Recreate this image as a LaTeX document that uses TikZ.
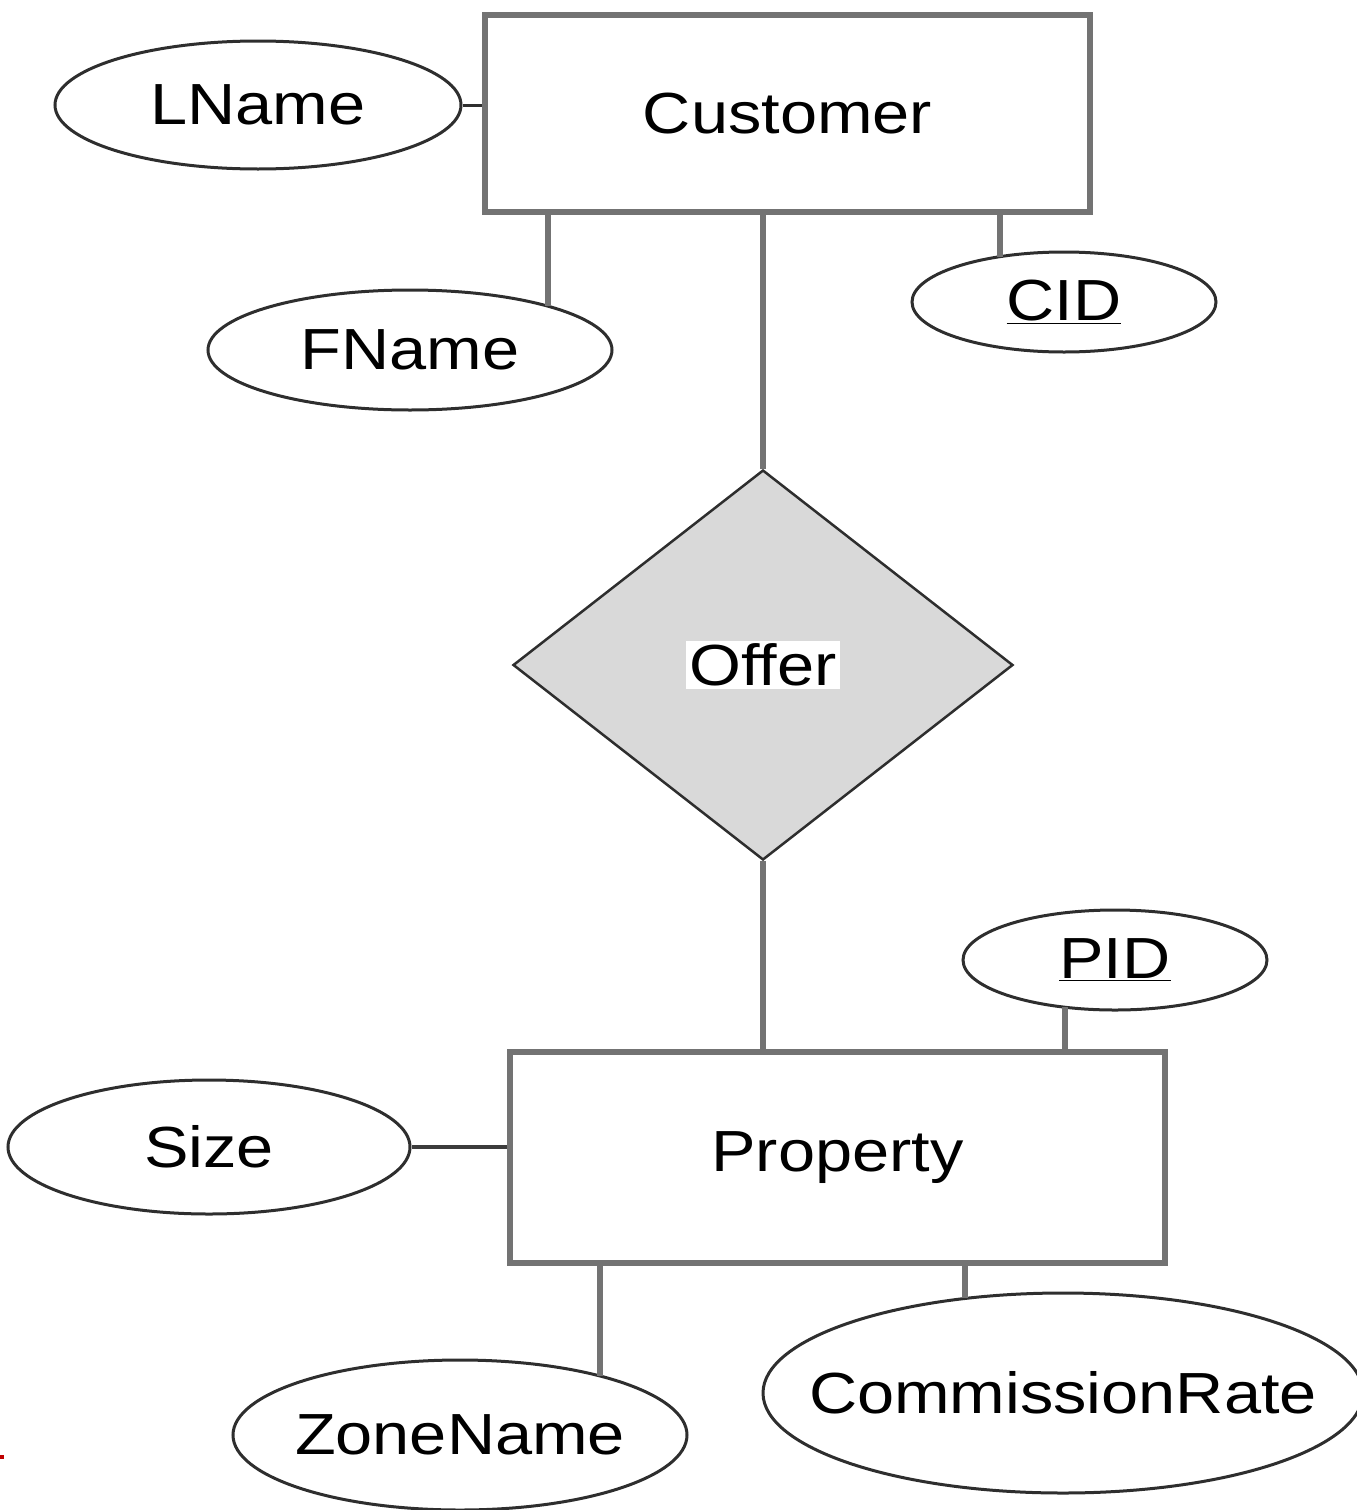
\documentclass[tikz,border=0pt]{standalone}
\usepackage{fontspec}
\setmainfont{Liberation Sans}
\usetikzlibrary{shapes.geometric}
\definecolor{rectgray}{HTML}{737373}
\definecolor{ellgray}{HTML}{2E2E2E}
\definecolor{relfill}{HTML}{D9D9D9}
\newcommand{\wtxt}[1]{\scalebox{1.15}[1]{#1}}
\newcommand{\ztxt}[1]{\makebox[0pt]{\wtxt{#1}}}
\begin{document}
\begin{tikzpicture}[x=1pt,y=-1pt,
  every node/.style={font=\fontsize{58}{60}\selectfont, text=black},
  ent/.style={rectangle, draw=rectgray, line width=6pt, inner sep=0pt},
  attr/.style={ellipse, draw=ellgray, line width=3pt, inner sep=0pt},
  rel/.style={diamond, draw=ellgray, fill=relfill, line width=2.5pt, inner sep=0pt},
  conn/.style={draw=rectgray, line width=6pt},
  thinconn/.style={draw=ellgray, line width=3pt}]
\useasboundingbox (0,0) rectangle (1357,1510);

% entities
\node[ent, minimum width=605pt, minimum height=197pt] (cust) at (787.5,113.5) {\wtxt{Customer}};
\node[ent, minimum width=655pt, minimum height=211pt] (prop) at (837.5,1157.5) {\wtxt{Property}};

% relationship
\node[rel, minimum width=500pt, minimum height=390pt] (offer) at (763,665)
  {\setlength{\fboxsep}{3pt}\colorbox{white}{\wtxt{Offer}}};

% attributes
\node[attr, minimum width=406pt, minimum height=128pt] (lname) at (258,105) {\ztxt{LName}};
\node[attr, minimum width=404pt, minimum height=120pt] (fname) at (410,350) {\ztxt{FName}};
\node[attr, minimum width=304pt, minimum height=100pt] (cid) at (1064,302) {\ztxt{\underline{CID}}};
\node[attr, minimum width=304pt, minimum height=100pt] (pid) at (1115,960) {\ztxt{\underline{PID}}};
\node[attr, minimum width=402pt, minimum height=134pt] (size) at (209,1147) {\ztxt{Size}};
\node[attr, minimum width=454pt, minimum height=150pt] (zone) at (460,1435) {\ztxt{ZoneName}};
\node[attr, minimum width=600pt, minimum height=200pt] (comm) at (1063,1393) {\ztxt{CommissionRate}};

% connector end points on ellipse borders
\coordinate (fnTop) at (548,306);
\coordinate (cidTop) at (1000,257);
\coordinate (pidBot) at (1065,1007);
\coordinate (znTop) at (600,1376);
\coordinate (crTop) at (965,1298);

% connectors
\draw[thinconn] (lname.east) -- (lname.east -| cust.west);
\draw[conn] (cust.south -| fnTop) -- (fnTop);
\draw[conn] (cust.south -| cidTop) -- (cidTop);
\draw[conn] (cust.south -| offer.north) -- (offer.north);
\draw[conn] (offer.south) -- (prop.north -| offer.south);
\draw[conn] (pidBot) -- (prop.north -| pidBot);
\draw[draw=ellgray!80!rectgray, line width=4pt] (size.east) -- (size.east -| prop.west);
\draw[conn] (prop.south -| znTop) -- (znTop);
\draw[conn] (prop.south -| crTop) -- (crTop);

% stray mark at left edge
\fill[red!75!black] (0,1455) rectangle (4,1459);
\end{tikzpicture}
\end{document}
